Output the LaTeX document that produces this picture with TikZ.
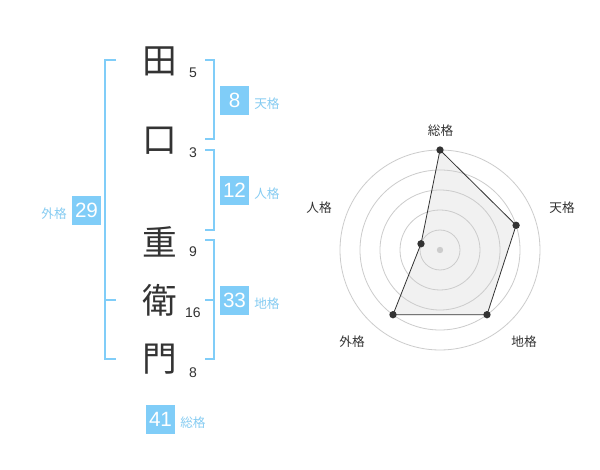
\documentclass[tikz,border=0pt]{standalone}
\usepackage{fontspec}
\setmainfont{Liberation Sans}
\newfontfamily\cjk{Noto Sans CJK JP}
\definecolor{boxblue}{HTML}{80CDF8}
\definecolor{lblblue}{HTML}{86CCF2}
\definecolor{ink}{HTML}{333333}
\definecolor{ringgray}{HTML}{CCCCCC}
\definecolor{polyfill}{HTML}{F1F1F1}
\begin{document}
\begin{tikzpicture}[x=0.75pt,y=-0.75pt,
  kanji/.style={font=\cjk\fontsize{26}{26}\selectfont,text=ink,inner sep=0pt},
  stroke/.style={font=\fontsize{10.5}{10.5}\selectfont,text=ink,inner sep=0pt},
  valbox/.style={fill=boxblue,text=white,minimum width=21.75pt,minimum height=21.75pt,inner sep=0pt,font=\fontsize{15.5}{15.5}\selectfont},
  kaku/.style={font=\cjk\fontsize{9.5}{9.5}\selectfont,text=lblblue,inner sep=0pt},
  brk/.style={draw=boxblue,line width=1.5pt},
  ring/.style={draw=ringgray,line width=0.6pt},
  rlabel/.style={font=\cjk\fontsize{9.5}{9.5}\selectfont,text=ink,inner sep=0pt},
  dot/.style={circle,fill=ink,inner sep=0pt,minimum size=5.5pt}]
\useasboundingbox[fill=white] (0,0) rectangle (600,470);
% kanji
\node[kanji] (k1) at (160,61) {田};
\node[kanji] (k2) at (160,141) {口};
\node[kanji] (k3) at (160,242) {重};
\node[kanji] (k4) at (160,300) {衛};
\node[kanji] (k5) at (160,359) {門};
% stroke counts
\node[stroke] (s1) at (193,73) {5};
\node[stroke] (s2) at (193,153) {3};
\node[stroke] (s3) at (193,252) {9};
\node[stroke] (s4) at (193,313) {16};
\node[stroke] (s5) at (193,373) {8};
% brackets
\coordinate (lt) at (105,60);
\coordinate (lb) at (105,359);
\draw[brk] (116,60) -- (lt) -- (lb) -- (116,359);
\draw[brk] (105,300) -- (116,300);
\draw[brk] (205,60) -- (214,60) -- (214,139) -- (205,139);
\draw[brk] (205,150) -- (214,150) -- (214,230) -- (205,230);
\draw[brk] (205,240) -- (214,240) -- (214,359) -- (205,359);
\draw[brk] (205,300) -- (214,300);
% value boxes
\node[valbox] (ten) at (234.5,100.5) {8};
\node[kaku,anchor=west] (tenl) at (254,104) {天格};
\node[valbox] (jin) at (234.5,190.5) {12};
\node[kaku,anchor=west] (jinl) at (254,194) {人格};
\node[valbox] (chi) at (234.5,300.5) {33};
\node[kaku,anchor=west] (chil) at (254,304) {地格};
\node[valbox] (gai) at (86.5,210.5) {29};
\node[kaku,anchor=east] (gail) at (67,214) {外格};
\node[valbox] (sou) at (160.5,419) {41};
\node[kaku,anchor=west] (soul) at (180,423) {総格};
% radar
\coordinate (c) at (440,250);
\coordinate (pS) at (440,150);
\coordinate (pT) at (516.1,225.3);
\coordinate (pC) at (487.0,314.7);
\coordinate (pG) at (393.0,314.7);
\coordinate (pJ) at (421.0,243.8);
\fill[polyfill] (pS) -- (pT) -- (pC) -- (pG) -- (pJ) -- cycle;
\foreach \r in {20,40,60,80,100}{\draw[ring] (c) circle[radius=\r*0.75pt];}
\fill[ringgray] (c) circle[radius=3.2*0.75pt];
\draw[ink,line width=0.6pt] (pS) -- (pT) -- (pC) -- (pG) -- (pJ) -- cycle;
\foreach \p in {pS,pT,pC,pG,pJ}{\node[dot] at (\p) {};}
\node[rlabel] (rS) at (440.5,131) {総格};
\node[rlabel] (rT) at (562,208) {天格};
\node[rlabel] (rC) at (524,342) {地格};
\node[rlabel] (rG) at (352,342) {外格};
\node[rlabel] (rJ) at (319,208) {人格};
\end{tikzpicture}
\end{document}
